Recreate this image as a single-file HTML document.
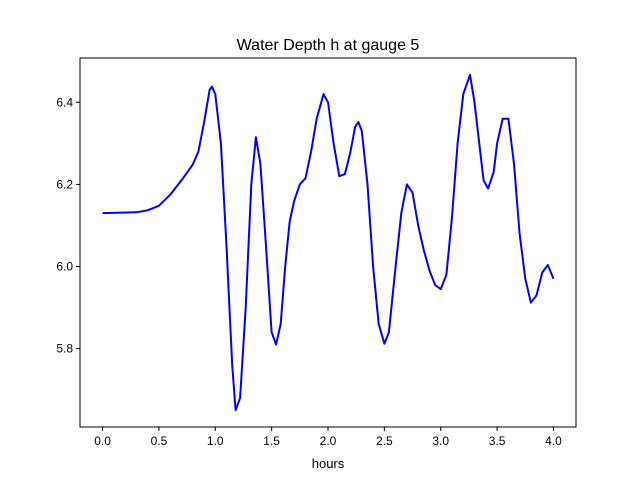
<!DOCTYPE html>
<html><head><meta charset="utf-8"><style>body{margin:0;background:#fff}svg{display:block;font-family:"Liberation Sans","DejaVu Sans",sans-serif}</style></head>
<body>
<svg id="chart" width="640" height="480" xmlns="http://www.w3.org/2000/svg">
<rect width="640" height="480" fill="#fff"/>
<text x="328" y="50" text-anchor="middle" font-size="16">Water Depth h at gauge 5</text>
<g id="axes"></g>
<text x="328" y="468" text-anchor="middle" font-size="13">hours</text>
</svg>
<script>
const times=[0,0.3,0.4,0.5,0.6,0.7,0.8,0.85,0.9,0.95,0.97,1.0,1.05,1.1,1.15,1.18,1.22,1.27,1.32,1.36,1.4,1.45,1.5,1.54,1.58,1.62,1.66,1.7,1.75,1.8,1.85,1.9,1.96,2.0,2.05,2.1,2.15,2.2,2.24,2.27,2.3,2.35,2.4,2.45,2.5,2.54,2.6,2.65,2.7,2.75,2.8,2.85,2.9,2.95,3.0,3.05,3.1,3.15,3.2,3.26,3.3,3.35,3.38,3.42,3.47,3.5,3.55,3.6,3.65,3.7,3.75,3.8,3.85,3.9,3.95,4.0];
const depths=[6.130,6.132,6.137,6.148,6.175,6.210,6.248,6.28,6.35,6.43,6.438,6.42,6.30,6.05,5.76,5.65,5.68,5.90,6.20,6.315,6.25,6.05,5.84,5.81,5.86,6.00,6.11,6.16,6.20,6.215,6.28,6.36,6.42,6.40,6.30,6.22,6.225,6.28,6.34,6.352,6.33,6.20,6.00,5.86,5.812,5.84,6.00,6.13,6.20,6.18,6.10,6.04,5.99,5.955,5.945,5.98,6.12,6.30,6.42,6.467,6.40,6.28,6.21,6.19,6.23,6.30,6.36,6.36,6.25,6.08,5.97,5.912,5.93,5.985,6.004,5.97];
const xTicks=[0,0.5,1,1.5,2,2.5,3,3.5,4];
const xTickLabels=["0.0","0.5","1.0","1.5","2.0","2.5","3.0","3.5","4.0"];
const yTicks=[5.8,6.0,6.2,6.4];
const yTickLabels=["5.8","6.0","6.2","6.4"];
const L=80,R=576,T=58,B=427;
const x0=Math.min(...times),x1=Math.max(...times),xm=(x1-x0)*0.05;
const y0=Math.min(...depths),y1=Math.max(...depths),ym=(y1-y0)*0.05;
const sx=v=>L+(v-(x0-xm))/((x1+xm)-(x0-xm))*(R-L);
const sy=v=>B-(v-(y0-ym))/((y1+ym)-(y0-ym))*(B-T);
const NS="http://www.w3.org/2000/svg",g=document.getElementById('axes');
function mk(t,a){const e=document.createElementNS(NS,t);for(const k in a)e.setAttribute(k,a[k]);g.appendChild(e);return e;}
xTicks.forEach((v,i)=>{const X=sx(v);
const tk=mk('line',{x1:X,x2:X,y1:B,y2:B+4,stroke:'#000'});


const t=mk('text',{x:X,y:B+18,'text-anchor':'middle','font-size':12});t.textContent=xTickLabels[i];

});
yTicks.forEach((v,i)=>{const Y=sy(v);
const tk=mk('line',{x1:L-4,x2:L,y1:Y,y2:Y,stroke:'#000'});


const t=mk('text',{x:L-7,y:Y+4,'text-anchor':'end','font-size':12});t.textContent=yTickLabels[i];

});
const p=mk('path',{d:times.map((t,i)=>(i?'L':'M')+sx(t).toFixed(1)+','+sy(depths[i]).toFixed(1)).join(''),fill:'none',stroke:'#0000ff','stroke-width':2,'stroke-linejoin':'round'});


const f=mk('rect',{x:L,y:T,width:R-L,height:B-T,fill:'none',stroke:'#000','stroke-width':1});


</script>
</body></html>
